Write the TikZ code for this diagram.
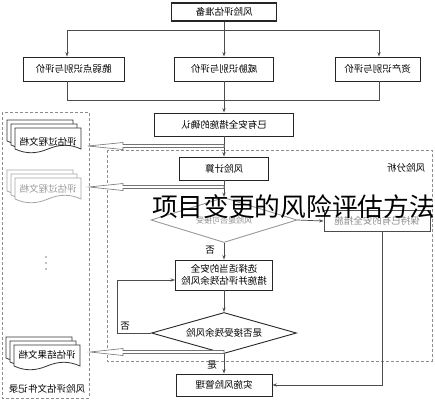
\documentclass[tikz,border=0pt]{standalone}
\usepackage{fontspec}
\usepackage{graphicx}
\newfontfamily\cjk{Noto Sans CJK SC}
\usetikzlibrary{arrows.meta,shapes.geometric}
\tikzset{
  docpage/.pic={\path[pic actions] (0,0) -- (66,0) -- (66,21) .. controls (55,16) and (45,16) .. (33,21) .. controls (21,26) and (11,26) .. (0,21) -- cycle;}
}
\newcommand\hollowarrow[3]{%
  \draw[hollow] (#1,#2) -- (123,#2-3.5) -- (123,#2-1.5) -- (#3,#2-1.5) -- (#3,#2+1.5) -- (123,#2+1.5) -- (123,#2+3.5) -- cycle;}
\begin{document}
\begin{tikzpicture}[x=1pt,y=-1pt,
  txt/.style={font=\cjk\fontsize{9.5}{10.5}\selectfont},
  box/.style={txt, draw=black!85, line width=0.9pt, inner sep=0pt, fill=white},
  conn/.style={draw=black!70, line width=0.7pt},
  arr/.style={conn, -{Stealth[length=4.5pt,width=3.2pt]}},
  lbl/.style={txt, inner sep=0pt},
  dbox/.style={draw=black!45, line width=0.9pt, dash pattern=on 3pt off 2pt},
  hollow/.style={draw=black!55, line width=0.6pt, fill=white},
  graydoc/.style={draw=black!35, line width=0.8pt, fill=white},
  darkdoc/.style={draw=black!80, line width=0.8pt, fill=white},
  dotmark/.style={circle, fill=black!50, inner sep=0pt, minimum size=1.6pt},
  dia/.style={draw, diamond, aspect=3.3, inner sep=0pt, line width=0.9pt}
]
\useasboundingbox[fill=white] (0,0) rectangle (435,400);

% dashed frames
\draw[dbox] (2,112) rectangle (89,398);
\draw[dbox] (107,150) rectangle (432,361);

% boxes
\node[box, line width=1.1pt, minimum width=105pt, minimum height=18pt] (prep) at (224,12) {\reflectbox{风险评估准备}};
\node[box, minimum width=101pt, minimum height=24pt] (vul) at (73.5,69) {\reflectbox{脆弱点识别与评价}};
\node[box, minimum width=99pt, minimum height=24pt] (thr) at (224,69) {\reflectbox{威胁识别与评价}};
\node[box, minimum width=85pt, minimum height=24pt] (ast) at (377.5,69) {\reflectbox{资产识别与评价}};
\node[box, minimum width=139pt, minimum height=23pt] (ctrl) at (224,124.5) {\reflectbox{已有安全措施的确认}};
\node[box, minimum width=89pt, minimum height=23pt] (calc) at (224,168.5) {\reflectbox{风险计算}};
\node[dia, draw=black!40, minimum width=146pt, minimum height=45pt, font=\cjk\fontsize{8}{9}\selectfont, text=black!45] (acc) at (224,220) {\reflectbox{风险是否可接受}};
\node[box, draw=black!70, text=black!45, minimum width=106pt, minimum height=21pt] (keep) at (377,221) {\reflectbox{保持已有的安全措施}};
\node[box, minimum width=97pt, minimum height=30pt] (sel) at (224,275) {\reflectbox{\shortstack{选择适当的安全\\措施并评估残余风险}}};
\node[dia, draw=black!85, minimum width=145pt, minimum height=41pt, txt] (res) at (224,333) {\reflectbox{是否接受残余风险}};
\node[box, minimum width=96pt, minimum height=22pt] (impl) at (224,385) {\reflectbox{实施风险管理}};

% branch connectors
\coordinate (t1) at (67,30);
\coordinate (t2) at (224,30);
\coordinate (t3) at (379,30);
\draw[conn] (prep.south) -- (t2);
\draw[conn] (t1) -- (t3);
\draw[arr] (t1) -- (t1 |- vul.north);
\draw[arr] (t2) -- (thr.north);
\draw[arr] (t3) -- (t3 |- ast.north);
\coordinate (b1) at (67,100);
\coordinate (b2) at (224,100);
\coordinate (b3) at (379,100);
\draw[conn] (b1 |- vul.south) -- (b1) -- (b3) -- (b3 |- ast.south);
\draw[conn] (thr.south) -- (b2);
\draw[arr] (b2) -- (ctrl.north);
\draw[arr] (ctrl) -- (calc);
\draw[arr] (calc) -- (acc);
\draw[arr] (acc.south) -- (sel.north);
\draw[arr] (sel) -- (res);
\draw[arr] (res) -- (impl);
\draw[arr] (acc.east) -- (keep.west);
\coordinate (k1) at (382,385);
\draw[arr] (keep.south -| k1) -- (k1) -- (impl.east);
\coordinate (l1) at (117,333);
\coordinate (l2) at (117,280);
\draw[arr] (res.west) -- (l1) -- (l2) -- (l2 -| sel.west);

% connector labels
\node[lbl] (no1) at (210,250) {\reflectbox{否}};
\node[lbl] (no2) at (125,326) {\reflectbox{否}};
\node[lbl] (yes) at (212,365) {\reflectbox{是}};
\node[lbl] (ana) at (406,168) {\reflectbox{风险分析}};

% document stacks
\pic[darkdoc] at (7,120) {docpage};
\pic[darkdoc] at (11,124) {docpage};
\pic[darkdoc] at (15,128) {docpage};
\node[lbl] (doc1) at (48,142) {\reflectbox{评估过程文档}};
\pic[graydoc] at (7,170) {docpage};
\pic[graydoc] at (11,174) {docpage};
\pic[graydoc] at (15,178) {docpage};
\node[lbl, text=black!40] (doc2) at (48,189) {\reflectbox{评估过程文档}};
\node[dotmark] (d1) at (46,257) {};
\node[dotmark] (d2) at (46,263) {};
\node[dotmark] (d3) at (46,269) {};
\pic[darkdoc] at (6,337) {docpage};
\pic[darkdoc] at (10,341) {docpage};
\pic[darkdoc] at (14,345) {docpage};
\node[lbl] (doc3) at (47,355) {\reflectbox{评估结果文档}};
\node[lbl] (rec) at (47,389) {\reflectbox{风险评估文件记录}};

% hollow arrows to documents
\hollowarrow{88}{146}{224}
\hollowarrow{89}{187}{224}
\hollowarrow{90}{352}{224}

% overlay title
\node[font=\cjk\fontsize{25.7}{28}\selectfont, inner sep=0pt] (title) at (293.5,207) {项目变更的风险评估方法};
\end{tikzpicture}
\end{document}
